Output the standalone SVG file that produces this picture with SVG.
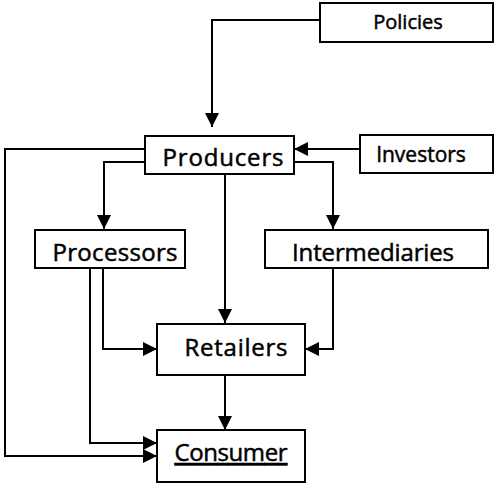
<svg xmlns="http://www.w3.org/2000/svg" width="500" height="488" viewBox="0 0 500 488">
  <style>
    .box { fill: #fff; stroke: #000; stroke-width: 2; }
    .lbl { font-family: "Open Sans", "DejaVu Sans", sans-serif; fill: #000; stroke: #000; stroke-width: 0.5; text-anchor: middle; }
    .big { font-size: 24px; }
    .mid { font-size: 21px; }
    .small { font-size: 20px; }
    .conn { fill: none; stroke: #000; stroke-width: 2; }
  </style>
  <defs>
    <marker id="arr" markerUnits="userSpaceOnUse" markerWidth="14" markerHeight="14" refX="14" refY="7" orient="auto">
      <path d="M0,0 L14,7 L0,14 Z" fill="#000"/>
    </marker>
  </defs>
  <rect width="500" height="488" fill="#fff"/>
  <g id="connectors">
    <path class="conn" d="M320,20 H212 V127" marker-end="url(#arr)"/>
    <path class="conn" d="M360,149 H294" marker-end="url(#arr)"/>
    <path class="conn" d="M145,149 H5 V456 H157" marker-end="url(#arr)"/>
    <path class="conn" d="M145,162 H104 V229" marker-end="url(#arr)"/>
    <path class="conn" d="M225,174 V323" marker-end="url(#arr)"/>
    <path class="conn" d="M294,162 H333 V229" marker-end="url(#arr)"/>
    <path class="conn" d="M90,268 V443 H157" marker-end="url(#arr)"/>
    <path class="conn" d="M103,268 V349 H157" marker-end="url(#arr)"/>
    <path class="conn" d="M333,268 V349 H305" marker-end="url(#arr)"/>
    <path class="conn" d="M225,375 V430" marker-end="url(#arr)"/>
  </g>
  <g id="policies">
    <rect class="box" x="320" y="3" width="173" height="39"/>
    <text class="lbl small" x="408" y="29">Policies</text>
  </g>
  <g id="producers">
    <rect class="box" x="145" y="136" width="149" height="38"/>
    <text class="lbl big" x="223" y="166" textLength="121">Producers</text>
  </g>
  <g id="investors">
    <rect class="box" x="360" y="135" width="133" height="38"/>
    <text class="lbl mid" x="421" y="162">Investors</text>
  </g>
  <g id="processors">
    <rect class="box" x="35" y="230" width="150" height="38"/>
    <text class="lbl big" x="115" y="261" textLength="125">Processors</text>
  </g>
  <g id="intermediaries">
    <rect class="box" x="265" y="230" width="223" height="38"/>
    <text class="lbl big" x="373" y="261" textLength="162">Intermediaries</text>
  </g>
  <g id="retailers">
    <rect class="box" x="157" y="324" width="148" height="51"/>
    <text class="lbl big" x="236" y="356" textLength="103">Retailers</text>
  </g>
  <g id="consumer">
    <rect class="box" x="157" y="430" width="148" height="52"/>
    <text class="lbl big" x="231" y="461" textLength="113" text-decoration="underline">Consumer</text>
  </g>
</svg>
